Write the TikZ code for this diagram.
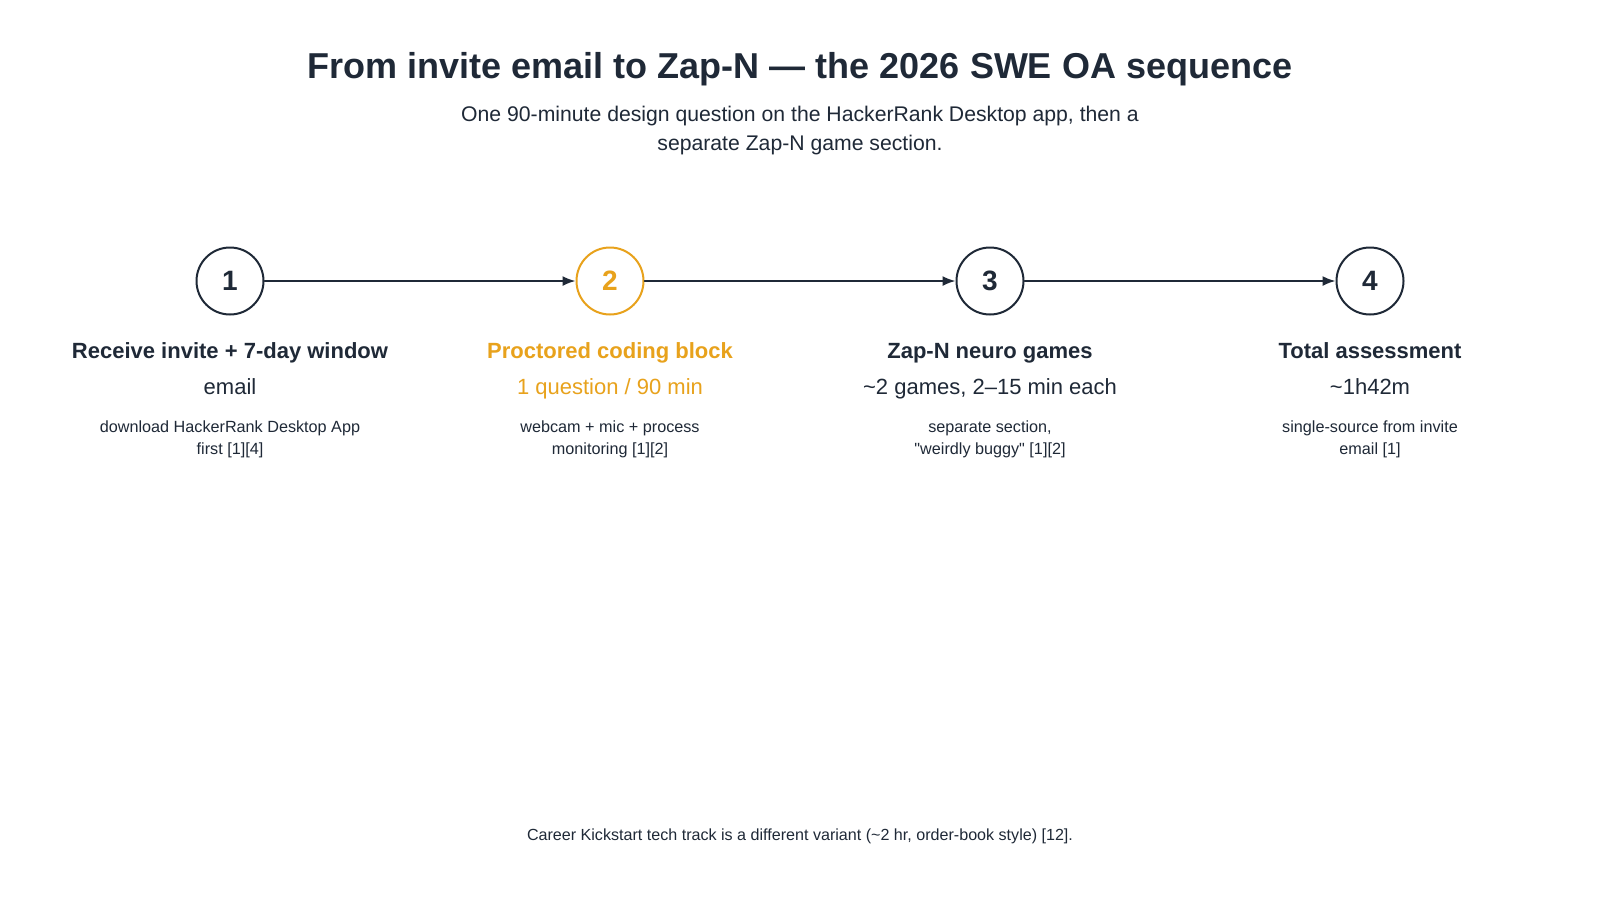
\documentclass[tikz,border=0pt]{standalone}
\usepackage{fontspec}
\setmainfont{Liberation Sans}
\usetikzlibrary{arrows.meta,positioning}

\definecolor{ink}{HTML}{1F2937}
\definecolor{amber}{HTML}{E8A21C}

\tikzset{
  stepcircle/.style={circle, draw=ink, line width=2pt, fill=white, minimum size=67pt, inner sep=0pt, text=ink, font=\fontsize{28}{28}\selectfont\bfseries},
  flow/.style={-{Latex[length=13pt,width=10pt]}, line width=1.8pt, color=ink},
  headtxt/.style={anchor=base, text=ink, font=\fontsize{22}{22}\selectfont\bfseries},
  valtxt/.style={anchor=base, text=ink, font=\fontsize{22}{22}\selectfont},
  notetxt/.style={anchor=base, text=ink, align=center, font=\fontsize{16.2}{21.5}\selectfont}
}

\begin{document}
\begin{tikzpicture}[x=1pt, y=-1pt, line cap=round, line join=round]
    \useasboundingbox[fill=white] (0,0) rectangle (1600,900);

    % title and subtitle
    \node[anchor=base, text=ink, font=\fontsize{36}{36}\selectfont\bfseries] (title) at (800,78) {From invite email to Zap-N — the 2026 SWE OA sequence};
    \node[anchor=base, text=ink, align=center, font=\fontsize{21.2}{29}\selectfont] (subtitle) at (800,150) {One 90-minute design question on the HackerRank Desktop app, then a\\separate Zap-N game section.};

    % steps
    \node[stepcircle] (s1) at (230,281) {1};
    \node[stepcircle, draw=amber, text=amber] (s2) at (610,281) {2};
    \node[stepcircle] (s3) at (990,281) {3};
    \node[stepcircle] (s4) at (1370,281) {4};

    \draw[flow] (s1) -- (s2);
    \draw[flow] (s2) -- (s3);
    \draw[flow] (s3) -- (s4);

    % labels under the steps
    \node[headtxt] (h1) at (230,358) {Receive invite + 7-day window};
    \node[valtxt] (v1) at (230,394) {email};
    \node[notetxt] (n1) at (230,454) {download HackerRank Desktop App\\first [1][4]};

    \node[headtxt, text=amber] (h2) at (610,358) {Proctored coding block};
    \node[valtxt, text=amber] (v2) at (610,394) {1 question / 90 min};
    \node[notetxt] (n2) at (610,454) {webcam + mic + process\\monitoring [1][2]};

    \node[headtxt] (h3) at (990,358) {Zap-N neuro games};
    \node[valtxt] (v3) at (990,394) {\textasciitilde 2 games, 2–15 min each};
    \node[notetxt] (n3) at (990,454) {separate section,\\\textquotedbl weirdly buggy\textquotedbl{} [1][2]};

    \node[headtxt] (h4) at (1370,358) {Total assessment};
    \node[valtxt] (v4) at (1370,394) {\textasciitilde 1h42m};
    \node[notetxt] (n4) at (1370,454) {single-source from invite\\email [1]};

    % footer
    \node[anchor=base, text=ink, font=\fontsize{16.1}{16.1}\selectfont] (foot) at (800,840) {Career Kickstart tech track is a different variant (\textasciitilde 2 hr, order-book style) [12].};
\end{tikzpicture}
\end{document}
